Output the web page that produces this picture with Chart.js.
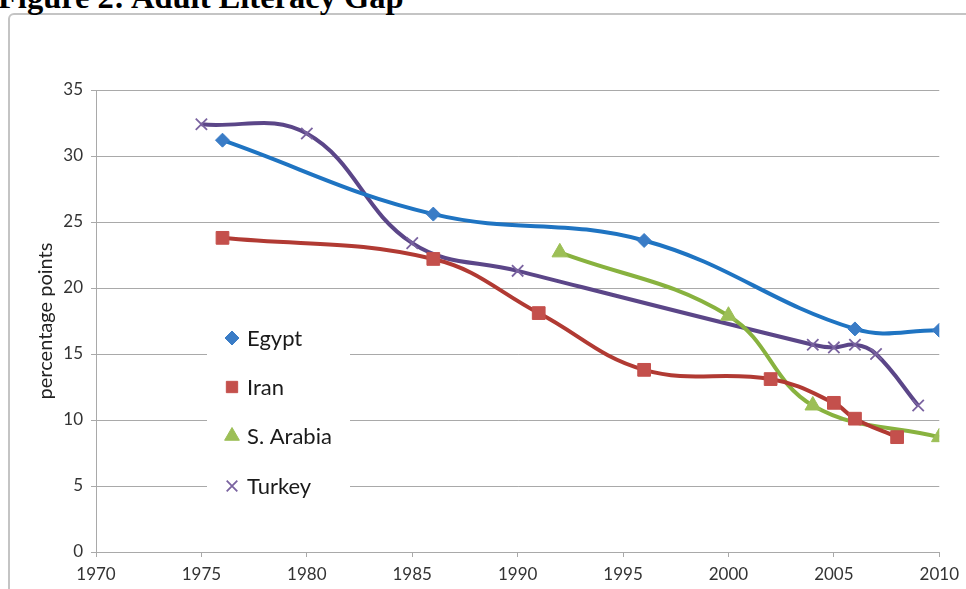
<!DOCTYPE html>
<html>
<head>
<meta charset="utf-8">
<script src="https://cdn.jsdelivr.net/npm/chart.js@4/dist/chart.umd.min.js"></script>
<style>
  html, body { margin: 0; padding: 0; background: #fff; overflow: hidden; }
  #wrap { position: relative; width: 966px; height: 589px; overflow: hidden; }
  #frame {
    position: absolute; left: 8px; top: 13px; width: 1000px; height: 640px;
    border: 2px solid #c4c4c4; border-radius: 6px; background: #fff;
  }
  #heading {
    position: absolute; left: -2px; top: -19px; margin: 0;
    font: bold 32.5px/32px "Liberation Serif", "Times New Roman", serif;
    color: #000; white-space: nowrap;
  }
  canvas { position: absolute; left: 0; top: 0; }
</style>
</head>
<body>
<div id="wrap">
  <div id="frame"></div>
  <h1 id="heading">Figure 2: Adult Literacy Gap</h1>
  <canvas id="chart" width="966" height="589"></canvas>
</div>
<script>
// Adult literacy gap (percentage points) by survey year
const egyptYears = [1976, 1986, 1996, 2006, 2010];
const egyptGap   = [31.2, 25.6, 23.6, 16.9, 16.8];

const iranYears = [1976, 1986, 1991, 1996, 2002, 2005, 2006, 2008];
const iranGap   = [23.8, 22.2, 18.1, 13.8, 13.1, 11.3, 10.1, 8.7];

const saudiYears = [1992, 2000, 2004, 2010];
const saudiGap   = [22.7, 17.9, 11.1, 8.7];

const turkeyYears = [1975, 1980, 1985, 1990, 2004, 2005, 2006, 2007, 2009];
const turkeyGap   = [32.4, 31.7, 23.4, 21.3, 15.7, 15.5, 15.7, 15.0, 11.1];

const seriesNames = ['Egypt', 'Iran', 'S. Arabia', 'Turkey'];
const yearTicks = [1970, 1975, 1980, 1985, 1990, 1995, 2000, 2005, 2010];
const gapTicks = [0, 5, 10, 15, 20, 25, 30, 35];

const pairs = (xs, ys) => xs.map((x, i) => ({ x, y: ys[i] }));

const FONT = 'Lato, "Open Sans", "Liberation Sans", sans-serif';
const GRID = '#a9a9a9';

function series(label, data, line, marker, style, radius, legendRadius, extra) {
  return Object.assign({
    label, data, legendRadius,
    borderColor: line, borderWidth: 4,
    backgroundColor: marker,
    pointBackgroundColor: marker, pointBorderColor: marker,
    pointStyle: style, pointRadius: radius, pointHoverRadius: radius,
    pointBorderWidth: 1,
    tension: 0.4, cubicInterpolationMode: 'default', fill: false
  }, extra || {});
}

const datasets = [
  series(seriesNames[0], pairs(egyptYears, egyptGap), '#1f74c2', '#3a7cc6', 'rectRot', 7, 7),
  series(seriesNames[1], pairs(iranYears, iranGap), '#b13a33', '#c4504c', 'rect', 9, 8),
  series(seriesNames[2], pairs(saudiYears, saudiGap), '#88b23f', '#9cbf56', 'triangle', 9, 8.5),
  series(seriesNames[3], pairs(turkeyYears, turkeyGap), '#5b4688', '#7a63a0', 'crossRot', 8, 7.5,
         { pointBorderWidth: 1.8 })
];

// Legend box sitting inside the plot, over the gridlines
const insetLegend = {
  id: 'insetLegend',
  beforeDatasetsDraw(chart) {
    const ctx = chart.ctx;
    ctx.save();
    ctx.fillStyle = '#fff';
    ctx.fillRect(207, 318, 143, 186);
    const rows = [338, 387, 436, 486];
    chart.data.datasets.forEach((ds, i) => {
      const y = rows[i];
      ctx.fillStyle = ds.pointBackgroundColor;
      ctx.strokeStyle = ds.pointBorderColor;
      ctx.lineWidth = ds.pointBorderWidth;
      Chart.helpers.drawPoint(ctx, {
        pointStyle: ds.pointStyle,
        radius: ds.legendRadius,
        rotation: 0,
        borderWidth: ds.pointBorderWidth
      }, 232, y);
      ctx.fillStyle = '#1a1a1a';
      ctx.font = '22px ' + FONT;
      ctx.textAlign = 'left';
      ctx.textBaseline = 'middle';
      ctx.fillText(ds.label, 247, y + 1);
    });
    ctx.restore();
  }
};

new Chart(document.getElementById('chart'), {
  type: 'line',
  data: { datasets },
  plugins: [insetLegend],
  options: {
    responsive: false,
    animation: false,
    events: [],
    layout: { padding: { top: 90, right: 18, left: 0, bottom: 0 } },
    plugins: { legend: { display: false }, tooltip: { enabled: false }, title: { display: false } },
    scales: {
      x: {
        type: 'linear',
        min: yearTicks[0], max: yearTicks[yearTicks.length - 1],
        afterBuildTicks: s => { s.ticks = yearTicks.map(v => ({ value: v })); },
        afterFit: s => { s.height = 37; },
        grid: { drawOnChartArea: false, drawTicks: true, tickLength: 5, color: GRID, lineWidth: 1 },
        border: { color: GRID, width: 1 },
        ticks: {
          padding: 7, color: '#333', font: { family: FONT, size: 17 },
          maxRotation: 0, autoSkip: false,
          callback: v => String(v)
        }
      },
      y: {
        type: 'linear',
        min: gapTicks[0], max: gapTicks[gapTicks.length - 1],
        afterBuildTicks: s => { s.ticks = gapTicks.map(v => ({ value: v })); },
        afterFit: s => { s.width = 96; },
        grid: { drawTicks: true, tickLength: 5, color: GRID, lineWidth: 1 },
        border: { color: GRID, width: 1 },
        title: {
          display: true, text: 'percentage points', color: '#222',
          font: { family: FONT, size: 20 }, padding: { top: 34, bottom: 0 }
        },
        ticks: {
          padding: 8, color: '#333', font: { family: FONT, size: 17 },
          callback: v => String(v)
        }
      }
    }
  }
});
</script>
</body>
</html>
